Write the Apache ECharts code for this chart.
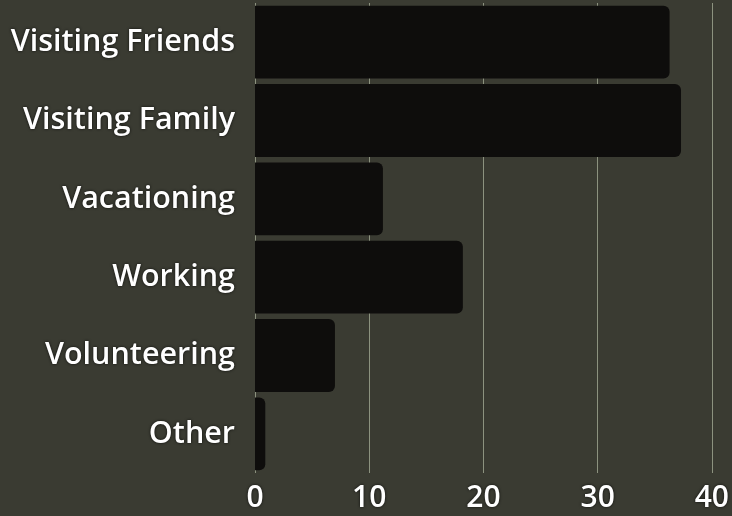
<!DOCTYPE html>
<html><head><meta charset="utf-8">
<script src="https://cdn.jsdelivr.net/npm/echarts@6/dist/echarts.min.js"></script>
<style>html,body{margin:0;padding:0;background:#3a3b32;}#c{width:732px;height:516px;}</style>
</head><body><div id="c"></div>
<script>
const categories = ["Visiting Friends","Visiting Family","Vacationing","Working","Volunteering","Other"];
const values = [36.3, 37.3, 11.2, 18.2, 7.0, 0.9];
const xTicks = [0, 10, 20, 30, 40];

const chart = echarts.init(document.getElementById('c'), null, {renderer:'canvas'});
chart.setOption({
  backgroundColor: '#3a3b32',
  animation: false,
  grid: {left: 255, right: 19, top: 3, bottom: 43},
  xAxis: {
    type: 'value', min: xTicks[0], max: xTicks[xTicks.length-1], interval: 10,
    axisLine: {show: false}, axisTick: {show: false},
    splitLine: {show: true, lineStyle: {color: '#8c927f', width: 1}},
    axisLabel: {color: '#ffffff', fontSize: 30, fontWeight: 600, fontFamily: 'Open Sans', margin: 10,
      textShadowColor: 'rgba(0,0,0,0.8)', textShadowBlur: 3,
      formatter: v => xTicks.includes(v) ? String(v) : ''}
  },
  yAxis: {
    type: 'category', data: categories, inverse: true,
    axisLine: {show: false}, axisTick: {show: false}, splitLine: {show: false},
    axisLabel: {color: '#ffffff', fontSize: 30.5, fontWeight: 600, fontFamily: 'Open Sans', margin: 20,
      textShadowColor: 'rgba(0,0,0,0.8)', textShadowBlur: 3}
  },
  series: [{
    type: 'bar', data: values, barCategoryGap: '7%',
    itemStyle: {color: '#0e0d0c', borderRadius: [0, 6, 6, 0]}
  }]
});
</script></body></html>
